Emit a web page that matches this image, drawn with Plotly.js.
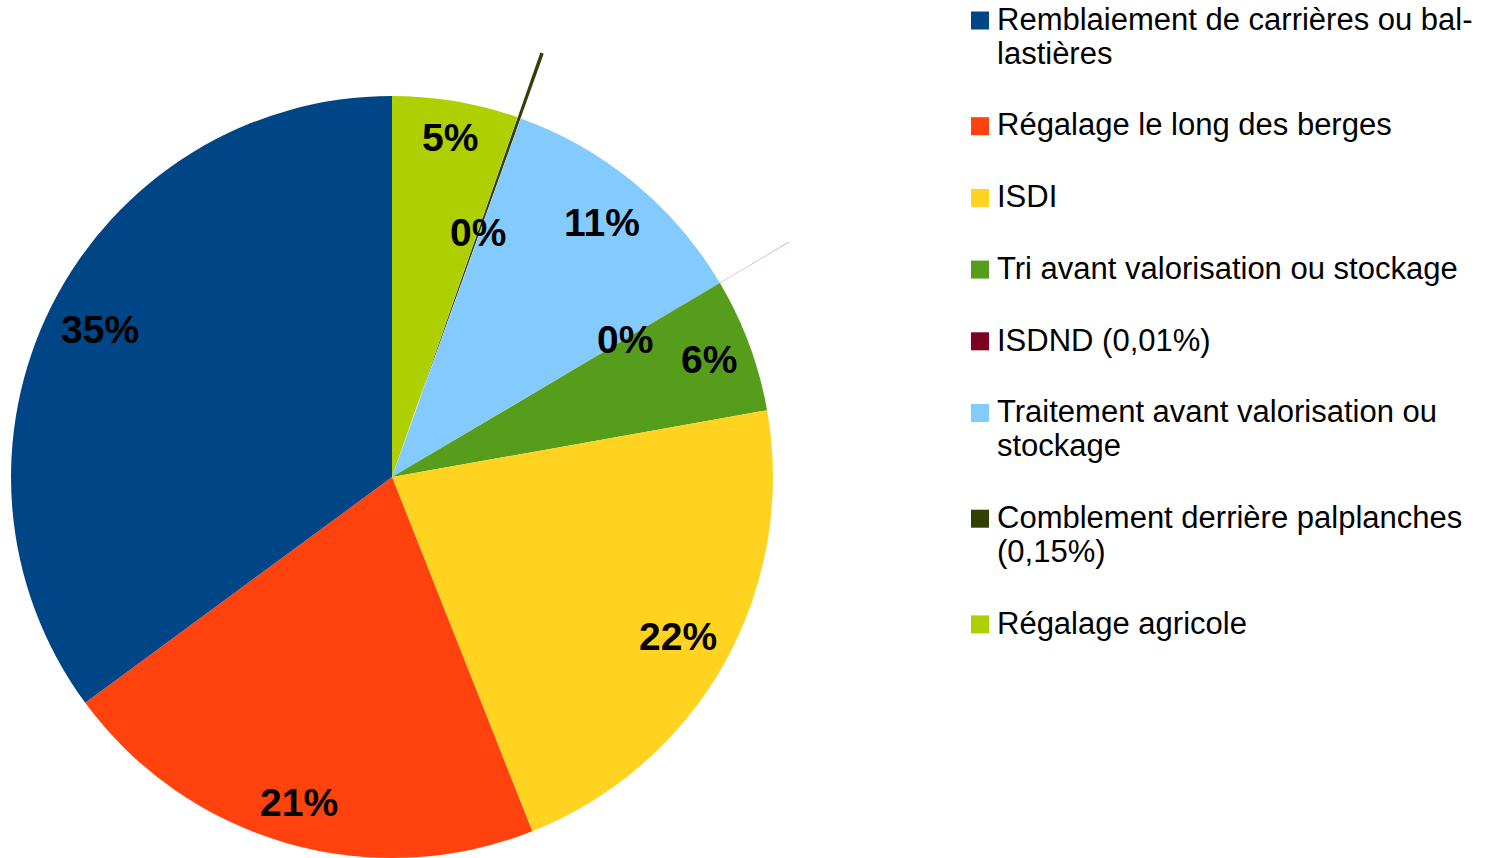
<!DOCTYPE html>
<html>
<head>
<meta charset="utf-8">
<script src="https://cdn.plot.ly/plotly-3.0.1.min.js"></script>
<style>
html, body { margin: 0; padding: 0; background: #ffffff; }
#frame { position: relative; width: 1499px; height: 858px; overflow: hidden; }
#chart { position: absolute; left: -69px; top: 0; width: 1568px; height: 938px; }
</style>
</head>
<body>
<div id="frame"><div id="chart"></div></div>
<script>
// ---- data ----
const categories = [
  "Remblaiement de carrières ou bal-<br>lastières",
  "Régalage le long des berges",
  "ISDI",
  "Tri avant valorisation ou stockage",
  "ISDND (0,01%)",
  "Traitement avant valorisation ou<br>stockage",
  "Comblement derrière palplanches<br>(0,15%)",
  "Régalage agricole"
];
const shares = [35.1, 20.9, 21.8, 5.7, 0.01, 11.0, 0.15, 5.34];

// ---- style ----
const colors = ["#004586", "#ff420e", "#ffd320", "#579d1c", "#7e0021", "#83caff", "#314004", "#aecf00"];
const pulls = [0, 0, 0, 0, 0.21, 0, 0.18, 0];
const FONT = 'Liberation Sans, Arial, sans-serif';
const LABEL_SIZE = 39, LEGEND_SIZE = 31;

// ---- geometry (page pixels) ----
const OFFX = 69, W = 1568, H = 938, MT = 16, MB = 0;
const PH = H - MT - MB;
const BOX = 922;
const cx = BOX / 2 - OFFX;
const cy = MT + BOX / 2;
const R = (BOX / 2) / (1 + Math.max(...pulls));
const px2x = p => (p + OFFX) / W;
const py2y = p => 1 - (p - MT) / PH;

const annotations = [];
const shapes = [];

// text width helper
const ctx = document.createElement('canvas').getContext('2d');
ctx.font = 'bold ' + LABEL_SIZE + 'px "Liberation Sans", Arial, sans-serif';
const textW = s => { const w = ctx.measureText(s).width; return w > 0 ? w : s.length * LABEL_SIZE * 0.62; };

// percentage labels: on the slice bisector (counterclockwise from 12 o'clock),
// pushed inward until the label box fits inside the circle
const total = shares.reduce((a, b) => a + b, 0);
const RC = R * 0.976, HB = 22;
let cum = 0;
shares.forEach((v, i) => {
  const mid = (cum + v / 2) / total * 2 * Math.PI;
  cum += v;
  const txt = Math.round(v / total * 100) + '%';
  const ux = Math.abs(Math.sin(mid)), uy = Math.abs(Math.cos(mid));
  let d;
  if (pulls[i] > 0) {
    d = R * (pulls[i] + 0.5);
  } else {
    const a = textW(txt) / 2;
    const p = a * ux + HB * uy;
    d = -p + Math.sqrt(p * p - (a * a + HB * HB - RC * RC));
  }
  annotations.push({
    xref: 'paper', yref: 'paper',
    x: px2x(cx - d * Math.sin(mid)), y: py2y(cy - d * Math.cos(mid)),
    xanchor: 'center', yanchor: 'middle', showarrow: false,
    text: txt,
    font: { family: FONT, size: LABEL_SIZE, color: '#000000', weight: 'bold' }
  });
});

// legend
const LEG_TX = 995, SQ_X0 = 971, SQ = 18;
const BASE0 = 29, LINE = 34, STEP = 71.7;
let base = BASE0;
categories.forEach((lab, i) => {
  const lines = lab.split('<br>');
  shapes.push({
    type: 'rect', xref: 'paper', yref: 'paper',
    x0: px2x(SQ_X0), x1: px2x(SQ_X0 + SQ),
    y0: py2y(base + 0.5), y1: py2y(base + 0.5 - SQ),
    fillcolor: colors[i], line: { width: 0 }
  });
  lines.forEach((ln, k) => {
    annotations.push({
      xref: 'paper', yref: 'paper',
      x: px2x(LEG_TX), y: py2y(base + k * LINE - 9.8),
      xanchor: 'left', yanchor: 'middle', showarrow: false,
      text: ln,
      font: { family: FONT, size: LEGEND_SIZE, color: '#000000' }
    });
  });
  base += (lines.length - 1) * LINE + STEP;
});

// Plotly draws the first slice to the right of 12 o'clock; the reference runs
// counterclockwise from 12 o'clock, i.e. the reversed order clockwise.
const rev = a => a.slice().reverse();
const trace = {
  type: 'pie',
  labels: rev(categories),
  values: rev(shares),
  sort: false,
  direction: 'clockwise',
  rotation: 0,
  pull: rev(pulls),
  marker: { colors: rev(colors), line: { width: 0 } },
  textinfo: 'none',
  hoverinfo: 'label+percent',
  showlegend: false,
  domain: { x: [0, BOX / W], y: [0, 1] }
};

const layout = {
  width: W, height: H,
  margin: { l: 0, r: 0, t: MT, b: MB },
  paper_bgcolor: '#ffffff',
  showlegend: false,
  annotations: annotations,
  shapes: shapes,
  font: { family: FONT }
};

Plotly.newPlot('chart', [trace], layout, { displayModeBar: false, staticPlot: true });
</script>
</body>
</html>
